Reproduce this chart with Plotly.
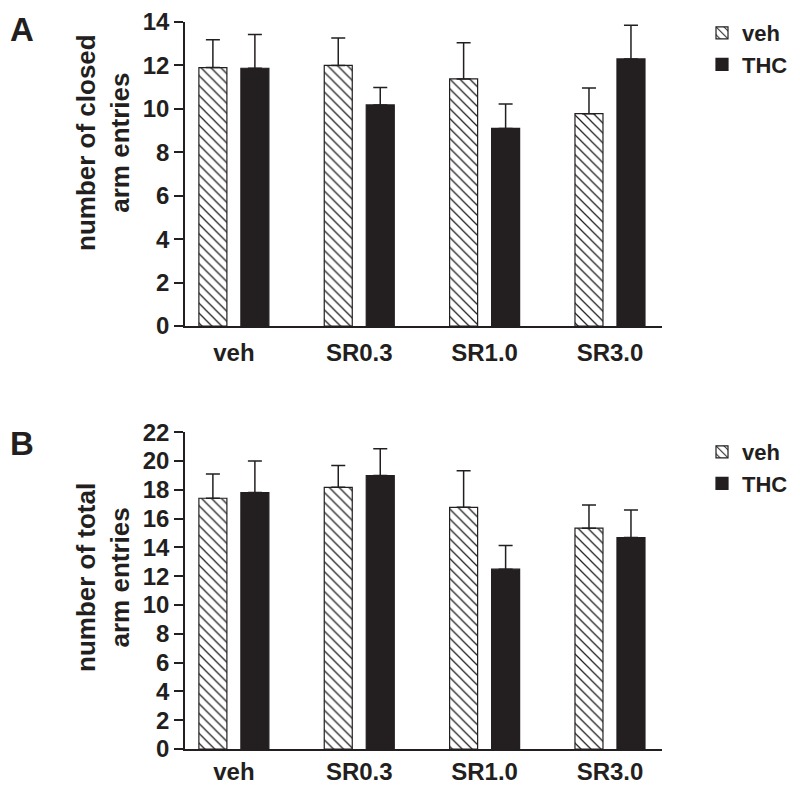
import plotly.graph_objects as go

# ---------------- data ----------------
groups = ["veh", "SR0.3", "SR1.0", "SR3.0"]

closed_veh = [11.9, 12.0, 11.38, 9.78]
closed_veh_sem = [1.28, 1.26, 1.66, 1.18]
closed_thc = [11.87, 10.18, 9.1, 12.3]
closed_thc_sem = [1.56, 0.8, 1.12, 1.55]

total_veh = [17.42, 18.18, 16.79, 15.34]
total_veh_sem = [1.68, 1.52, 2.54, 1.61]
total_thc = [17.81, 19.0, 12.49, 14.69]
total_thc_sem = [2.19, 1.86, 1.64, 1.92]

closed_ticks = [0, 2, 4, 6, 8, 10, 12, 14]
total_ticks = [0, 2, 4, 6, 8, 10, 12, 14, 16, 18, 20, 22]

# ---------------- style ----------------
# the page body has an 8 px margin, so the figure is drawn 8 px in
OFF = 8
W, H = 800 - OFF, 785 - OFF
ML, MR, MT, MB = 185 - OFF, 138, 14, 36
PW = W - ML - MR
PH = H - MT - MB
DARK = "#231f20"
FONT = "Liberation Sans"


def px_x(page):
    return (page - OFF - ML) / PW


def px_y(page):
    return (H - MB - (page - OFF)) / PH


def veh_bar(y, sem, xaxis, yaxis, legend):
    return go.Bar(
        x=groups, y=y, name="veh", xaxis=xaxis, yaxis=yaxis,
        legend=legend, offsetgroup="veh",
        marker=dict(color="white", line=dict(color=DARK, width=1.2),
                    pattern=dict(shape="\\", fgcolor=DARK, bgcolor="white",
                                 fillmode="replace", size=7, solidity=0.18)),
        error_y=dict(type="data", symmetric=False, array=sem,
                     arrayminus=[0] * len(sem), color=DARK,
                     thickness=1.5, width=7),
    )


def thc_bar(y, sem, xaxis, yaxis, legend):
    return go.Bar(
        x=groups, y=y, name="THC", xaxis=xaxis, yaxis=yaxis,
        legend=legend, offsetgroup="thc",
        marker=dict(color=DARK, line=dict(color=DARK, width=1.2)),
        error_y=dict(type="data", symmetric=False, array=sem,
                     arrayminus=[0] * len(sem), color=DARK,
                     thickness=1.5, width=7),
    )


fig = go.Figure()
fig.add_trace(veh_bar(closed_veh, closed_veh_sem, "x", "y", "legend"))
fig.add_trace(thc_bar(closed_thc, closed_thc_sem, "x", "y", "legend"))
fig.add_trace(veh_bar(total_veh, total_veh_sem, "x2", "y2", "legend2"))
fig.add_trace(thc_bar(total_thc, total_thc_sem, "x2", "y2", "legend2"))

TICKFONT = dict(family=FONT, size=24, color=DARK, weight="bold")
xcommon = dict(type="category", range=[-0.39, 3.415], showline=True,
               linecolor=DARK, linewidth=1.5, ticks="", ticklen=0,
               showgrid=False, zeroline=False, tickfont=TICKFONT)
ycommon = dict(showline=True, linecolor=DARK, linewidth=1.5, ticks="outside",
               ticklen=9, tickwidth=1.5, tickcolor=DARK, showgrid=False,
               zeroline=False, ticklabeloverflow="allow", tickfont=TICKFONT)

LEGFONT = dict(family=FONT, size=22, color=DARK, weight="bold")

fig.update_layout(
    width=W, height=H,
    margin=dict(l=ML, r=MR, t=MT, b=MB, autoexpand=False),
    paper_bgcolor="white", plot_bgcolor="white",
    barmode="group", bargap=0.33, bargroupgap=0.333,
    xaxis=dict(**xcommon, domain=[0, 1], anchor="y", ticklabelstandoff=4),
    yaxis=dict(**ycommon, domain=[px_y(326), 1.0], range=[0, 14],
               tickvals=closed_ticks, anchor="x"),
    xaxis2=dict(**xcommon, domain=[0, 1], anchor="y2", ticklabelstandoff=0),
    yaxis2=dict(**ycommon, domain=[0, px_y(432.3)], range=[0, 22],
                tickvals=total_ticks, anchor="x2"),
    legend=dict(x=px_x(702), y=px_y(12), xanchor="left", yanchor="top",
                font=LEGFONT, bgcolor="rgba(0,0,0,0)"),
    legend2=dict(x=px_x(702), y=px_y(431), xanchor="left", yanchor="top",
                 font=LEGFONT, bgcolor="rgba(0,0,0,0)"),
    annotations=[
        dict(text="number of closed<br>arm entries", x=px_x(103), y=px_y(143),
             xref="paper", yref="paper", showarrow=False, textangle=-90,
             xanchor="center", yanchor="middle",
             font=dict(family=FONT, size=26, color=DARK, weight="bold")),
        dict(text="number of total<br>arm entries", x=px_x(103), y=px_y(578),
             xref="paper", yref="paper", showarrow=False, textangle=-90,
             xanchor="center", yanchor="middle",
             font=dict(family=FONT, size=26, color=DARK, weight="bold")),
        dict(text="A", x=px_x(OFF), y=px_y(29), xref="paper", yref="paper",
             showarrow=False, xanchor="left", yanchor="middle",
             font=dict(family=FONT, size=33, color=DARK, weight="bold")),
        dict(text="B", x=px_x(OFF), y=px_y(443), xref="paper", yref="paper",
             showarrow=False, xanchor="left", yanchor="middle",
             font=dict(family=FONT, size=33, color=DARK, weight="bold")),
    ],
)

fig.write_html("out.html")
